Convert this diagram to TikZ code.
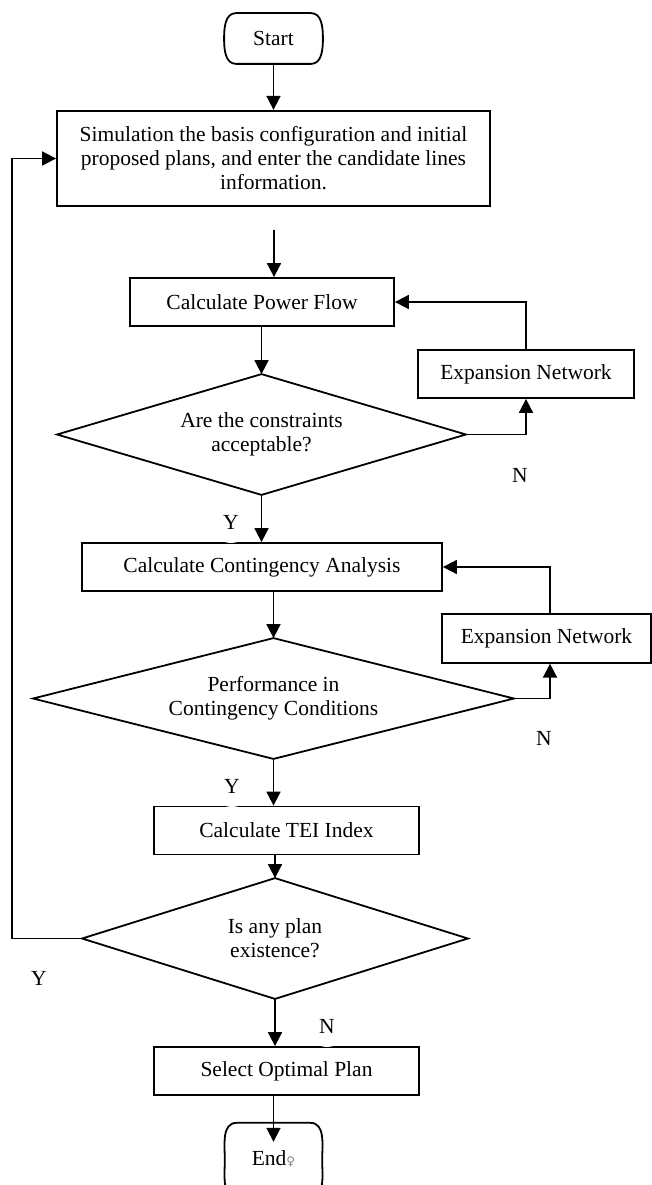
\documentclass[tikz,border=0pt]{standalone}
\usepackage{fontspec}
\setmainfont{Liberation Serif}
\newfontfamily\dejavu{DejaVu Sans}
\usetikzlibrary{shapes.geometric,arrows.meta}
\begin{document}
\begin{tikzpicture}[x=1pt,y=-1pt,
  every node/.style={font=\fontsize{21.5}{24}\selectfont, inner sep=0pt},
  box/.style={draw, line width=1.8pt, rectangle},
  dec/.style={rectangle, align=center, outer sep=0.9pt},
  ln/.style={line width=1.8pt, line join=miter},
  arr/.style={line width=1.8pt, -{Triangle[length=14pt,width=14pt]}},
  labw/.style={ellipse, fill=white, minimum width=40pt, minimum height=42pt}
]
\useasboundingbox (0,0) rectangle (652,1185);

% nodes
\node[minimum width=97pt, minimum height=49pt, outer sep=0.9pt] (start) at (273.5,38.5) {Start};
\draw[ln] ([xshift=12pt]start.north west) -- ([xshift=-12pt]start.north east)
  to[out=0,in=90] (start.east) to[out=-90,in=0] ([xshift=-12pt]start.south east)
  -- ([xshift=12pt]start.south west) to[out=180,in=-90] (start.west)
  to[out=90,in=180] cycle;

\node[box, minimum width=433pt, minimum height=95.5pt, align=center] (sim) at (273.5,158.5)
  {Simulation the basis configuration and initial\\ proposed plans, and enter the candidate lines\\ information.};
\coordinate (simout) at (274,230);

\node[box, minimum width=264pt, minimum height=48pt] (pf) at (262,302) {Calculate Power Flow};
\node[dec, minimum width=407pt, minimum height=119pt] (d1) at (261.5,434.5) {Are the constraints\\ acceptable?};
\draw[ln] (d1.north) -- (d1.east) -- (d1.south) -- (d1.west) -- cycle;
\node[box, minimum width=216pt, minimum height=48pt] (e1) at (526,374) {Expansion Network};

\node[box, minimum width=360pt, minimum height=48pt] (cont) at (262,567) {Calculate Contingency Analysis};
\node[dec, minimum width=479pt, minimum height=119pt] (d2) at (273.5,698.5) {Performance in\\ Contingency Conditions};
\draw[ln] (d2.north) -- (d2.east) -- (d2.south) -- (d2.west) -- cycle;
\node[box, minimum width=209pt, minimum height=48.5pt] (e2) at (546.5,638.5) {Expansion Network};

\node[box, minimum width=265pt, minimum height=48pt] (tei) at (286.5,830.5) {Calculate TEI Index};
\node[dec, minimum width=384pt, minimum height=119pt] (d3) at (275,938.5) {Is any plan\\ existence?};
\draw[ln] (d3.north) -- (d3.east) -- (d3.south) -- (d3.west) -- cycle;
\node[box, minimum width=265pt, minimum height=48pt] (sel) at (286.5,1071) {Select Optimal Plan};

\node[minimum width=97pt, minimum height=74pt] (end) at (273.5,1160)
  {\raisebox{3pt}{End{\dejavu\fontsize{12}{12}\selectfont\color{gray}♀}}};
\draw[ln] ([xshift=12pt]end.north west) -- ([xshift=-12pt]end.north east)
  to[out=0,in=90] (end.east) to[out=-90,in=0] ([xshift=-12pt]end.south east)
  -- ([xshift=12pt]end.south west) to[out=180,in=-90] (end.west)
  to[out=90,in=180] cycle;

% connectors
\draw[arr] (start.south) -- (sim.north);
\draw[arr] (simout) -- (simout |- pf.north);
\draw[arr] (pf.south -| d1.north) -- (d1.north);
\draw[arr] (d1.east) -| (e1.south);
\draw[arr] (e1.north) |- (pf.east);
\draw[arr] (d1.south) -- (d1.south |- cont.north);
\draw[arr] (cont.south -| d2.north) -- (d2.north);
\draw[arr] (d2.east) -| ([xshift=3.5pt]e2.south);
\draw[arr] ([xshift=3.5pt]e2.north) |- (cont.east);
\draw[arr] (d2.south) -- (d2.south |- tei.north);
\draw[arr] (tei.south -| d3.north) -- (d3.north);
\coordinate (lp) at (11.7,938.5);
\draw[arr] (d3.west) -- (lp) |- (sim.west);
\draw[arr] (d3.south) -- (d3.south |- sel.north);
\draw[arr] (sel.south -| end.north) -- ([yshift=-19pt]end.north);

% labels
\node (n1) at (520,475) {N};
\node[labw] (y1) at (231,522) {Y};
\node (n2) at (544,738) {N};
\node[labw] (y2) at (232,786) {Y};
\node (y3) at (39,978) {Y};
\node[labw] (n3) at (327,1026) {N};
\end{tikzpicture}
\end{document}
